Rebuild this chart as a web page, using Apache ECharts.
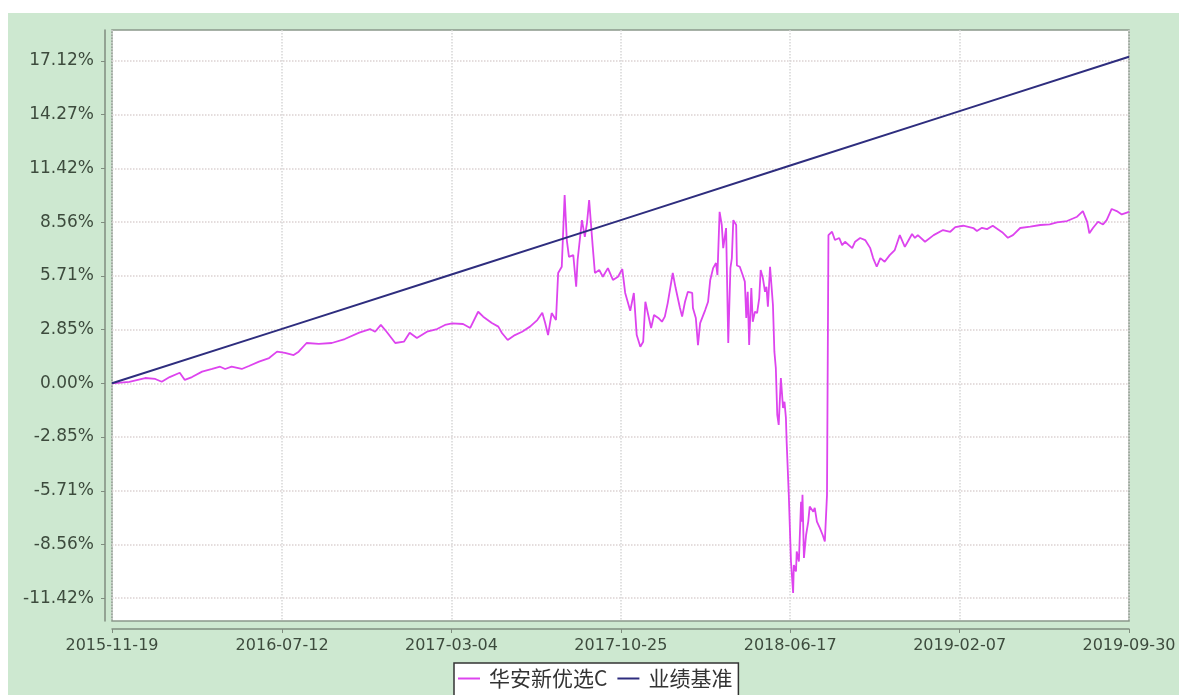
<!DOCTYPE html>
<html>
<head>
<meta charset="utf-8">
<script src="https://cdn.jsdelivr.net/npm/echarts@6/dist/echarts.min.js"></script>
<style>
html,body{margin:0;padding:0;background:#fff;}
#chart{width:1179px;height:695px;}
</style>
</head>
<body>
<div id="chart"></div>
<script>
const seriesNames = ['华安新优选C', '业绩基准'];
const xTickLabels = ['2015-11-19','2016-07-12','2017-03-04','2017-10-25','2018-06-17','2019-02-07','2019-09-30'];
const yTickValues = [-11.42,-8.56,-5.71,-2.85,0,2.85,5.71,8.56,11.42,14.27,17.12];

const fundDates = [
'2015-11-19','2015-12-13','2016-01-04','2016-01-18','2016-01-27','2016-02-07','2016-02-21','2016-02-28','2016-03-09','2016-03-23',
'2016-04-06','2016-04-17','2016-04-24','2016-05-03','2016-05-17','2016-05-27','2016-06-10','2016-06-24','2016-07-05','2016-07-16',
'2016-07-28','2016-08-04','2016-08-15','2016-09-01','2016-09-19','2016-10-07','2016-10-27','2016-11-11','2016-11-18','2016-11-26',
'2016-12-04','2016-12-16','2016-12-28','2017-01-05','2017-01-15','2017-01-29','2017-02-12','2017-02-23','2017-03-05','2017-03-20',
'2017-03-30','2017-04-10','2017-04-17','2017-04-29','2017-05-08','2017-05-13','2017-05-21','2017-05-31','2017-06-10','2017-06-21',
'2017-07-01','2017-07-08','2017-07-12','2017-07-16','2017-07-21','2017-07-27','2017-07-30','2017-08-04','2017-08-08','2017-08-11',
'2017-08-14','2017-08-20','2017-08-24','2017-08-26','2017-09-01','2017-09-05','2017-09-08','2017-09-11','2017-09-16','2017-09-19',
'2017-09-25','2017-09-30','2017-10-07','2017-10-14','2017-10-21','2017-10-27','2017-10-31','2017-11-07','2017-11-12','2017-11-16',
'2017-11-21','2017-11-25','2017-11-28','2017-12-02','2017-12-06','2017-12-10','2017-12-16','2017-12-21','2017-12-25','2017-12-29',
'2018-01-05','2018-01-09','2018-01-15','2018-01-18','2018-01-22','2018-01-26','2018-02-01','2018-02-02','2018-02-06','2018-02-09',
'2018-02-12','2018-02-19','2018-02-23','2018-02-26','2018-03-02','2018-03-06','2018-03-08','2018-03-11','2018-03-14','2018-03-16',
'2018-03-20','2018-03-23','2018-03-26','2018-03-28','2018-03-30','2018-04-03','2018-04-04','2018-04-08','2018-04-12','2018-04-15',
'2018-04-17','2018-04-19','2018-04-21','2018-04-24','2018-04-26','2018-04-29','2018-05-02','2018-05-05','2018-05-07','2018-05-10',
'2018-05-13','2018-05-15','2018-05-17','2018-05-20','2018-05-24','2018-05-26','2018-05-28','2018-05-30','2018-06-01','2018-06-04',
'2018-06-07','2018-06-09','2018-06-11','2018-06-12','2018-06-15','2018-06-18','2018-06-21','2018-06-22','2018-06-25','2018-06-26',
'2018-06-29','2018-07-02','2018-07-03','2018-07-04','2018-07-06','2018-07-09','2018-07-12','2018-07-14','2018-07-19','2018-07-21',
'2018-07-24','2018-07-28','2018-08-01','2018-08-04','2018-08-07','2018-08-09','2018-08-14','2018-08-18','2018-08-24','2018-08-28',
'2018-09-01','2018-09-11','2018-09-15','2018-09-22','2018-09-29','2018-10-06','2018-10-10','2018-10-15','2018-10-20','2018-10-26',
'2018-11-02','2018-11-09','2018-11-16','2018-11-23','2018-11-27','2018-12-03','2018-12-07','2018-12-11','2018-12-21','2019-01-02',
'2019-01-15','2019-01-25','2019-02-01','2019-02-12','2019-02-26','2019-03-03','2019-03-10','2019-03-17','2019-03-25','2019-04-07',
'2019-04-15','2019-04-22','2019-05-02','2019-05-16','2019-05-30','2019-06-12','2019-06-22','2019-07-06','2019-07-20','2019-07-28',
'2019-08-03','2019-08-06','2019-08-11','2019-08-18','2019-08-25','2019-08-30','2019-09-06','2019-09-13','2019-09-20','2019-09-30'
];
const fundValues = [
0.00,0.08,0.28,0.23,0.08,0.33,0.56,0.18,0.33,0.62,
0.76,0.88,0.76,0.88,0.76,0.92,1.15,1.34,1.68,1.61,
1.50,1.68,2.14,2.09,2.14,2.35,2.69,2.88,2.74,3.10,
2.74,2.14,2.21,2.69,2.41,2.74,2.88,3.10,3.18,3.15,
2.94,3.80,3.54,3.20,3.01,2.67,2.30,2.56,2.74,3.01,
3.36,3.75,3.20,2.56,3.73,3.36,5.86,6.19,10.00,7.61,
6.72,6.81,5.13,6.55,8.67,7.78,8.51,9.73,7.25,5.86,
6.02,5.66,6.12,5.49,5.66,6.07,4.80,3.85,4.80,2.56,
1.94,2.21,4.33,3.63,2.94,3.63,3.47,3.27,3.54,4.26,
5.86,5.06,4.00,3.54,4.33,4.86,4.80,4.00,3.47,2.03,
3.20,3.89,4.33,5.49,6.12,6.39,5.75,9.11,8.41,7.18,
8.25,2.14,6.12,6.65,8.67,8.41,6.26,6.19,5.75,5.40,
3.47,4.86,2.03,5.06,3.27,3.80,3.73,4.53,6.02,5.60,
4.86,5.13,4.07,6.19,4.16,1.68,0.81,-1.68,-2.21,0.28,
-1.31,-0.98,-1.84,-3.10,-5.93,-9.47,-11.14,-9.65,-10.00,-8.94,
-9.47,-6.29,-7.35,-5.93,-9.28,-8.06,-7.35,-6.55,-6.82,-6.62,
-7.35,-7.68,-8.06,-8.41,-5.93,7.87,8.05,7.61,7.72,7.34,
7.52,7.18,7.52,7.72,7.61,7.18,6.65,6.19,6.65,6.46,
6.81,7.08,7.87,7.25,7.52,7.93,7.72,7.87,7.52,7.87,
8.14,8.05,8.30,8.37,8.25,8.09,8.26,8.19,8.37,8.03,
7.73,7.87,8.25,8.32,8.41,8.44,8.55,8.62,8.85,9.15,
8.58,7.97,8.25,8.58,8.44,8.67,9.26,9.15,8.97,9.11
];
const benchDates = ['2015-11-19','2016-07-12','2017-03-04','2017-10-25','2018-06-17','2019-02-07','2019-09-30'];
const benchValues = [0.00,2.89,5.78,8.67,11.57,14.46,17.35];

const toTime = s => +echarts.time.parse(s);
const fundData = fundDates.map((d, i) => [toTime(d), fundValues[i]]);
const benchData = benchDates.map((d, i) => [toTime(d), benchValues[i]]);
const xTickTimes = xTickLabels.map(toTime);
const xLabelOf = v => {
  let best = 0;
  for (let i = 1; i < xTickTimes.length; i++) {
    if (Math.abs(xTickTimes[i] - v) < Math.abs(xTickTimes[best] - v)) best = i;
  }
  return xTickLabels[best];
};

const labelColor = '#3d4b3d';
const axisColor = '#7f8d7f';
const font = 'DejaVu Sans';

const chart = echarts.init(document.getElementById('chart'));
chart.setOption({
  animation: false,
  backgroundColor: '#ffffff',
  graphic: [{
    type: 'rect', left: 8, top: 13, z: -100,
    shape: { width: 1171, height: 682 },
    style: { fill: '#cde8d0' }
  }],
  grid: {
    left: 112, top: 30, right: 50, bottom: 74,
    show: true, backgroundColor: '#ffffff',
    borderColor: '#8a988a', borderWidth: 1.5
  },
  legend: {
    left: 454, top: 663,
    data: seriesNames,
    icon: 'rect', itemWidth: 22, itemHeight: 2, itemGap: 10,
    backgroundColor: '#ffffff', borderColor: '#333333', borderWidth: 1.5,
    padding: [5, 6, 8, 4],
    textStyle: { fontSize: 21, color: '#333333', fontFamily: 'Noto Sans CJK SC', padding: [0, 3, 0, 4] }
  },
  xAxis: {
    type: 'value',
    min: xTickTimes[0], max: xTickTimes[xTickTimes.length - 1],
    offset: 8,
    axisLine: { show: true, onZero: false, lineStyle: { color: axisColor, width: 1.5 } },
    axisTick: { show: true, length: 4, customValues: xTickTimes, lineStyle: { color: axisColor } },
    axisLabel: {
      customValues: xTickTimes, margin: 9,
      color: labelColor, fontSize: 16, fontFamily: font,
      formatter: v => xLabelOf(v)
    },
    splitLine: { show: true, lineStyle: { color: '#d6d6d6', type: 'dotted', width: 1.5 } }
  },
  yAxis: {
    type: 'value',
    min: -12.63, max: 18.77,
    offset: 7,
    axisLine: { show: true, onZero: false, lineStyle: { color: axisColor, width: 1.5 } },
    axisTick: { show: true, length: 4, customValues: yTickValues, lineStyle: { color: axisColor } },
    axisLabel: {
      customValues: yTickValues, margin: 11,
      color: labelColor, fontSize: 17, fontFamily: font,
      formatter: v => v.toFixed(2) + '%'
    },
    splitLine: { show: true, lineStyle: { color: '#dcd2d2', type: 'dotted', width: 1.5 } }
  },
  series: [
    {
      name: seriesNames[0], type: 'line', data: fundData,
      showSymbol: false, symbol: 'none',
      lineStyle: { color: '#dd44ee', width: 1.8 }, itemStyle: { color: '#dd44ee' }, z: 3
    },
    {
      name: seriesNames[1], type: 'line', data: benchData,
      showSymbol: false, symbol: 'none',
      lineStyle: { color: '#2e2d7e', width: 2 }, itemStyle: { color: '#2e2d7e' }, z: 4
    }
  ]
});
</script>
</body>
</html>
